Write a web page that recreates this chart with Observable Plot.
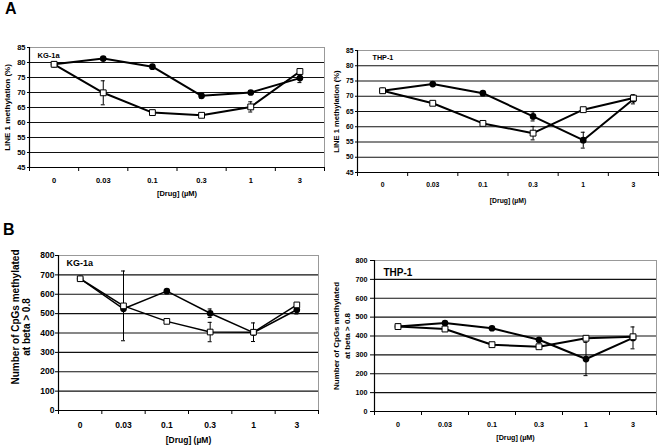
<!DOCTYPE html>
<html><head><meta charset="utf-8">
<script src="https://cdn.jsdelivr.net/npm/d3@7"></script>
<script src="https://cdn.jsdelivr.net/npm/@observablehq/plot@0.6"></script>
<style>
body{margin:0;background:#fff;}
#wrap{position:relative;width:662px;height:448px;background:#fff;font-family:"Liberation Sans",Arial,sans-serif;overflow:hidden;}
.p{position:absolute;}
.lab{position:absolute;font-weight:bold;font-size:16px;line-height:16px;}
</style></head><body>
<div id="wrap">
  <div class="lab" style="left:5px;top:1px">A</div>
  <div class="lab" style="left:3px;top:222px">B</div>
</div>
<script>
// Categories (drug concentration, µM)
const conc = ["0", "0.03", "0.1", "0.3", "1", "3"];
const xTitle = "[Drug] (µM)";

// Panel A: LINE-1 methylation (%)
const yTicksA = [45, 50, 55, 60, 65, 70, 75, 80, 85];
const yTitleA = "LINE 1 methylation (%)";
const kgA_filled = [79.4, 81.3, 78.6, 68.9, 70.0, 74.8];
const kgA_filledErr = [0, 0.6, 0.5, 0.8, 0.6, 1.5];
const kgA_open = [79.4, 69.9, 63.3, 62.4, 65.2, 77.0];
const kgA_openErr = [0, 4.0, 0, 0, 1.7, 1.0];
const thpA_filled = [71.8, 74.0, 71.0, 63.4, 55.6, 69.0];
const thpA_filledErr = [0, 0.5, 0.5, 1.5, 2.6, 1.5];
const thpA_open = [71.8, 67.7, 61.1, 57.9, 65.6, 69.4];
const thpA_openErr = [0.6, 0.5, 0, 2.2, 0.5, 0];

// Panel B: number of CpGs methylated at beta > 0.8
const yTicksB = [0, 100, 200, 300, 400, 500, 600, 700, 800];
const yTitleB1 = "Number of CpGs methylated";
const yTitleB2 = "at beta > 0.8";
const kgB_filled = [680, 525, 616, 502, 402, 520];
const kgB_filledErr = [0, 0, 0, 22, 0, 22];
const kgB_open = [680, 540, 460, 405, 404, 545];
const kgB_openErr = [0, 180, 0, 50, 48, 0];
const thpB_filled = [450, 469, 441, 380, 278, 390];
const thpB_filledErr = [0, 0, 0, 0, 88, 58];
const thpB_open = [450, 437, 354, 343, 388, 396];
const thpB_openErr = [0, 0, 0, 0, 0, 0];

const FONT = '"Liberation Sans", Arial, sans-serif';

function panel(o) {
  const idx = conc.map((_, i) => i);
  const rows = idx.map(i => ({i, f: o.filled[i], fe: o.filledErr[i], o: o.open[i], oe: o.openErr[i]}));
  const bounds = d3.range(0, 7).map(k => k - 0.5);
  const yMin = o.yTicks[0], yMax = o.yTicks[o.yTicks.length - 1];
  const errF = rows.filter(d => d.fe > 0), errO = rows.filter(d => d.oe > 0);
  const cap = {stroke: "#000", strokeWidth: 1, insetLeft: -2, insetRight: -2};
  const marks = [
    Plot.ruleY(o.yTicks.slice(1), {stroke: "#111", strokeWidth: 1.2}),
    Plot.frame({stroke: "#999"}),
    Plot.ruleY([yMin], {stroke: "#000", strokeWidth: 1.2}),
    Plot.ruleX([-0.5], {stroke: "#000", strokeWidth: 1.2}),
    Plot.axisY({ticks: o.yTicks, tickSize: o.yTickSize, tickPadding: o.yTickPad, label: null, fontSize: o.fs}),
    Plot.axisX({ticks: bounds, tickSize: 4, tickFormat: () => "", label: null}),
    Plot.text(idx, {x: d => d, text: d => conc[d], frameAnchor: "bottom", dy: o.xLabDy, lineAnchor: "middle", fontSize: o.fs}),
    Plot.text([xTitle], {text: d => d, frameAnchor: "bottom", dy: o.xTitleDy, lineAnchor: "middle", fontSize: o.fs}),
    Plot.line(rows, {x: "i", y: "o", stroke: "#000", strokeWidth: o.sw}),
    Plot.line(rows, {x: "i", y: "f", stroke: "#000", strokeWidth: o.sw}),
    Plot.ruleX(errF, {x: "i", y1: d => d.f - d.fe, y2: d => d.f + d.fe, stroke: "#000"}),
    Plot.ruleY(errF, {y: d => d.f - d.fe, x1: "i", x2: "i", ...cap}),
    Plot.ruleY(errF, {y: d => d.f + d.fe, x1: "i", x2: "i", ...cap}),
    Plot.ruleX(errO, {x: "i", y1: d => d.o - d.oe, y2: d => d.o + d.oe, stroke: "#000"}),
    Plot.ruleY(errO, {y: d => d.o - d.oe, x1: "i", x2: "i", ...cap}),
    Plot.ruleY(errO, {y: d => d.o + d.oe, x1: "i", x2: "i", ...cap}),
    Plot.dot(rows, {x: "i", y: "f", fill: "#000", stroke: "#000", r: o.rDot}),
    Plot.dot(rows, {x: "i", y: "o", symbol: "square", fill: "#fff", stroke: "#000", strokeWidth: 1, r: o.rSq}),
    Plot.text([o.name], {text: d => d, frameAnchor: "top-left", dx: o.nameDx, dy: o.nameDy, textAnchor: "start", lineAnchor: "middle", fontSize: o.nameFs})
  ];
  for (const t of o.yTitles) {
    marks.push(Plot.text([t.text], {text: d => d, frameAnchor: "left", rotate: -90, dx: t.dx, dy: t.dy, textAnchor: "middle", lineAnchor: "middle", fontSize: t.fs}));
  }
  const svg = Plot.plot({
    width: o.width, height: o.height,
    marginLeft: o.mL, marginRight: o.mR, marginTop: o.mT, marginBottom: o.mB,
    x: {domain: [-0.5, 5.5], label: null},
    y: {domain: [yMin, yMax], label: null},
    style: {fontFamily: FONT, fontWeight: "bold", fontSize: o.fs + "px", color: "#000", background: "transparent", overflow: "visible"},
    marks
  });
  const div = document.createElement("div");
  div.className = "p";
  div.style.left = o.left + "px";
  div.style.top = o.top + "px";
  div.appendChild(svg);
  document.getElementById("wrap").appendChild(div);
}

// A – KG-1a
panel({left: 0, top: 30, width: 330, height: 180, mL: 29, mR: 6, mT: 17, mB: 43,
  yTicks: yTicksA, yTickSize: 2, yTickPad: 2, fs: 7.5, xLabDy: 13, xTitleDy: 26, sw: 2,
  filled: kgA_filled, filledErr: kgA_filledErr, open: kgA_open, openErr: kgA_openErr,
  rDot: 2.6, rSq: 3.3, name: "KG-1a", nameDx: 8, nameDy: 8, nameFs: 7.5,
  yTitles: [{text: yTitleA, dx: -22, dy: 0, fs: 8}]});

// A – THP-1
panel({left: 330, top: 30, width: 332, height: 180, mL: 27, mR: 4, mT: 20, mB: 38,
  yTicks: yTicksA, yTickSize: 2, yTickPad: 2, fs: 6.8, xLabDy: 12.5, xTitleDy: 28, sw: 2,
  filled: thpA_filled, filledErr: thpA_filledErr, open: thpA_open, openErr: thpA_openErr,
  rDot: 2.6, rSq: 3.3, name: "THP-1", nameDx: 15, nameDy: 7, nameFs: 7.2,
  yTitles: [{text: yTitleA, dx: -21, dy: 0, fs: 7.6}]});

// B – KG-1a
panel({left: 0, top: 220, width: 330, height: 228, mL: 58, mR: 12, mT: 35, mB: 38,
  yTicks: yTicksB, yTickSize: 3, yTickPad: 1, fs: 8.5, xLabDy: 15, xTitleDy: 30, sw: 1.5,
  filled: kgB_filled, filledErr: kgB_filledErr, open: kgB_open, openErr: kgB_openErr,
  rDot: 2.6, rSq: 3.2, name: "KG-1a", nameDx: 8, nameDy: 8, nameFs: 9,
  yTitles: [{text: yTitleB1, dx: -43, dy: -16, fs: 10}, {text: yTitleB2, dx: -32, dy: -6, fs: 10}]});

// B – THP-1
panel({left: 330, top: 220, width: 332, height: 228, mL: 44, mR: 6, mT: 40, mB: 37,
  yTicks: yTicksB, yTickSize: 4, yTickPad: 3, fs: 7.2, xLabDy: 13.3, xTitleDy: 26, sw: 2,
  filled: thpB_filled, filledErr: thpB_filledErr, open: thpB_open, openErr: thpB_openErr,
  rDot: 2.6, rSq: 3.3, name: "THP-1", nameDx: 9, nameDy: 12, nameFs: 10,
  yTitles: [{text: yTitleB1, dx: -38, dy: 0, fs: 8}, {text: yTitleB2, dx: -27.5, dy: 0, fs: 8}]});
</script>
</body></html>
